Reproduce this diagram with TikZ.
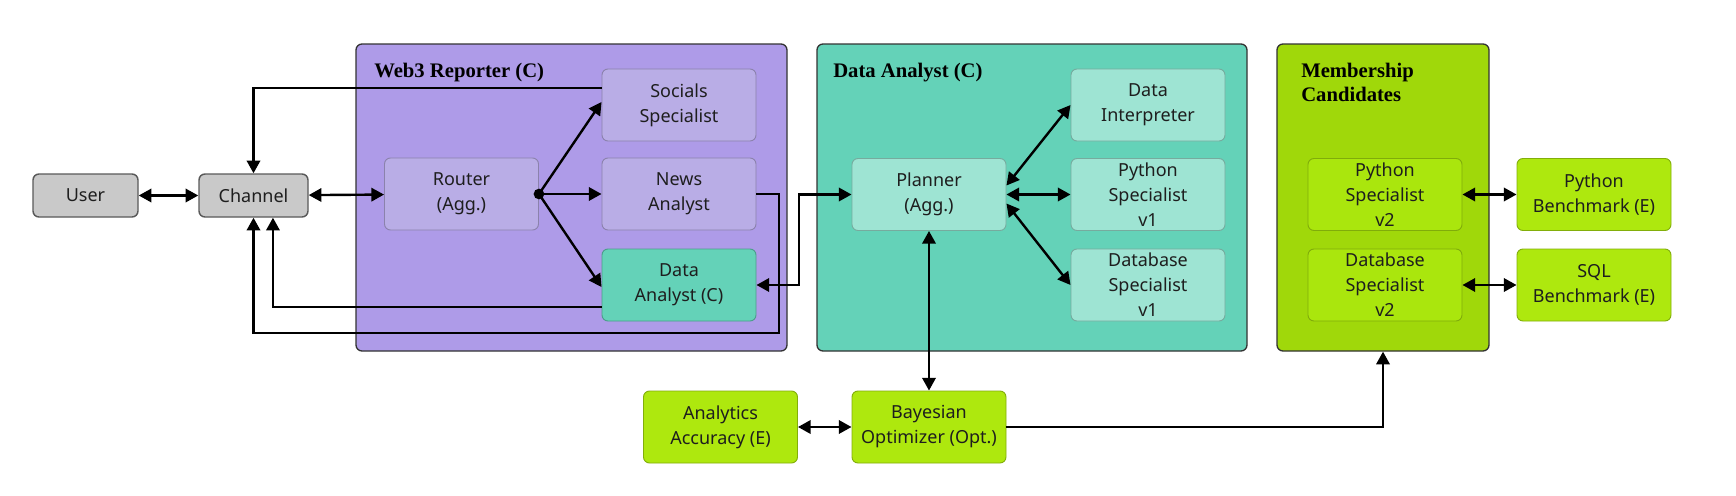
\documentclass[tikz,border=0pt]{standalone}
\usepackage{fontspec}
\setmainfont{Noto Sans}
\newfontfamily\titlefont{Liberation Serif}
\usetikzlibrary{arrows.meta}
\definecolor{purpC}{HTML}{AE9BE8}
\definecolor{purpI}{HTML}{B9ADE6}
\definecolor{tealC}{HTML}{64D2B8}
\definecolor{tealI}{HTML}{9EE4D3}
\definecolor{limeC}{HTML}{A0D80A}
\definecolor{limeI}{HTML}{AAE60D}
\definecolor{limeB}{HTML}{AEE80E}
\definecolor{greyB}{HTML}{C9C9C9}
\definecolor{txt}{HTML}{1E1E1E}
\begin{document}
\begin{tikzpicture}[x=0.75pt,y=-0.75pt,
  every node/.style={font=\fontsize{13.5}{18.75}\selectfont, text=txt, align=center, inner sep=0pt},
  cont/.style={draw=black!80, line width=1pt, rounded corners=4.5pt},
  ibox/.style={draw=#1!75!black, fill=#1, line width=0.7pt, rounded corners=4.5pt, minimum width=115.5pt, minimum height=54pt},
  gbox/.style={draw=black!65, fill=greyB, line width=1.1pt, rounded corners=4.5pt, minimum height=32.25pt},
  ttl/.style={font=\titlefont\bfseries\fontsize{15.5}{18}\selectfont, text=black, align=left, anchor=base west},
  arr/.style={line width=1.8pt, -{Triangle[length=9.5pt,width=10pt]}},
  both/.style={line width=1.8pt, {Triangle[length=9.5pt,width=10pt]}-{Triangle[length=9.5pt,width=10pt]}}
]
\useasboundingbox (0,0) rectangle (1736,496);
% containers
\node[cont, fill=purpC, minimum width=323.25pt, minimum height=230.25pt] (web3) at (571.5,197.5) {};
\node[cont, fill=tealC, minimum width=322.5pt, minimum height=230.25pt] (dac) at (1032,197.5) {};
\node[cont, fill=limeC, minimum width=159pt, minimum height=230.25pt] (mem) at (1383,197.5) {};
\node[ttl] (t1) at (374,77) {Web3 Reporter (C)};
\node[ttl] (t2) at (833,77) {Data Analyst (C)};
\node[ttl] (t3) at (1301,101) {Membership\\Candidates};
% boxes
\node[gbox, minimum width=78.75pt] (user) at (85.5,195.5) {User};
\node[gbox, minimum width=81.75pt] (chan) at (253.5,195.5) {Channel};
\node[ibox=purpI] (rout) at (461.5,194) {Router\\(Agg.)};
\node[ibox=purpI] (soc) at (679,105) {Socials\\Specialist};
\node[ibox=purpI] (news) at (679,194) {News\\Analyst};
\node[ibox=tealC] (dai) at (679,285) {Data\\Analyst (C)};
\node[ibox=tealI] (plan) at (929,194.5) {Planner\\(Agg.)};
\node[ibox=tealI] (di) at (1148,105) {Data\\Interpreter};
\node[ibox=tealI] (py1) at (1148,194.5) {Python\\Specialist\\v1};
\node[ibox=tealI] (db1) at (1148,285) {Database\\Specialist\\v1};
\node[ibox=limeI] (py2) at (1385,194.5) {Python\\Specialist\\v2};
\node[ibox=limeI] (db2) at (1385,285) {Database\\Specialist\\v2};
\node[ibox=limeB] (pyb) at (1594,194.5) {Python\\Benchmark (E)};
\node[ibox=limeB] (sqlb) at (1594,285) {SQL\\Benchmark (E)};
\node[ibox=limeB] (acc) at (720.5,427) {Analytics\\Accuracy (E)};
\node[ibox=limeB] (bay) at (929,427) {Bayesian\\Optimizer (Opt.)};
% connectors
\draw[both] (user) -- (chan);
\draw[both] (chan) -- (rout);
\fill (rout.east) circle (4pt);
\draw[arr] (rout.east) -- ([yshift=2.25pt]soc.west);
\draw[arr] (rout.east) -- (news.west);
\draw[arr] (rout.east) -- ([yshift=-1.5pt]dai.west);
\draw[arr] ([yshift=12.75pt]soc.west) -| (chan.north);
\draw[arr] ([yshift=-16.5pt]dai.west) -| ([xshift=14.6pt]chan.south);
\draw[arr] (news.east) -| (779,333) -| (chan.south);
\draw[both] (dai.east) -- (799,285) |- (plan.west);
\draw[both] ([yshift=6.75pt]plan.east) -- (di.west);
\draw[both] (plan.east) -- (py1.west);
\draw[both] ([yshift=-6.75pt]plan.east) -- (db1.west);
\draw[both] (plan.south) -- (bay.north);
\draw[both] (acc.east) -- (bay.west);
\draw[arr] (bay.east) -| (mem.south);
\draw[both] (py2.east) -- (pyb.west);
\draw[both] (db2.east) -- (sqlb.west);
\end{tikzpicture}
\end{document}
